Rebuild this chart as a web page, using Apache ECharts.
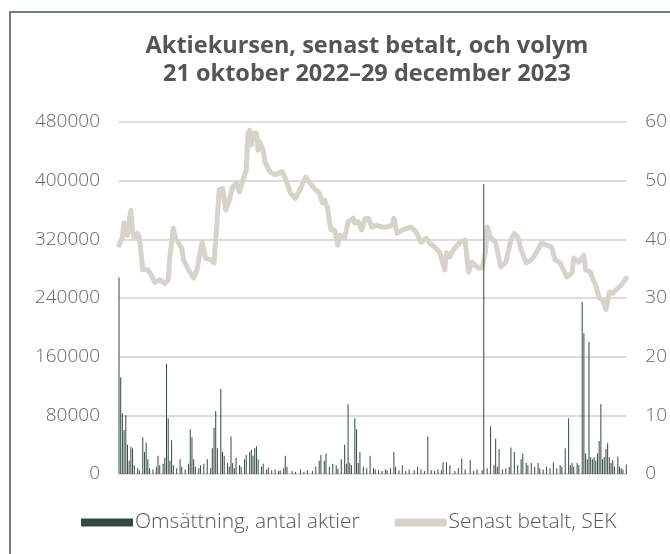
<!DOCTYPE html>
<html>
<head>
<meta charset="utf-8">
<script src="https://cdn.jsdelivr.net/npm/echarts@6/dist/echarts.min.js"></script>
<style>
html,body{margin:0;padding:0;background:#fff;}
#chart{width:670px;height:554px;}
</style>
</head>
<body>
<div id="chart"></div>
<script>
// Trading-day index (0 = 21 okt 2022, 299 = 29 dec 2023)
var priceDays = [0,2,3,4,5,6,7,8,9,11,12,14,17,19,21,24,27,29,30,32,33,35,37,38,41,44,46,48,49,51,54,56,58,59,61,63,65,67,69,71,73,75,76,77,78,79,81,82,83,85,86,89,92,96,98,101,104,107,110,112,115,118,120,121,123,124,125,127,129,130,133,135,138,139,141,143,145,147,149,152,155,158,161,162,164,167,172,175,178,181,183,186,189,192,193,195,197,201,204,206,208,212,214,216,217,219,222,225,228,231,233,235,237,240,243,246,249,252,255,257,260,264,267,268,271,274,275,278,279,281,283,285,287,289,291,293,296,299];
var priceValues = [39.0,40.4,42.8,43.0,40.7,43.0,44.9,41.6,40.2,41.0,40.4,34.8,34.8,33.9,32.7,33.1,32.5,33.1,37.0,41.9,40.4,39.4,38.5,36.5,34.8,33.4,34.8,38.2,39.5,36.8,36.5,36.0,43.8,48.4,48.7,45.0,46.7,48.9,49.6,48.1,50.1,51.8,58.1,58.6,56.1,58.1,58.1,55.2,56.6,55.2,53.2,51.5,51.0,51.5,50.5,47.9,47.0,48.7,50.6,49.8,48.7,47.9,46.2,46.7,45.3,43.0,41.6,41.6,39.0,40.7,40.2,43.0,43.6,42.8,43.0,41.6,43.5,43.6,42.1,42.4,42.1,42.1,42.4,43.6,41.0,41.6,42.1,41.3,39.5,40.2,39.4,38.7,37.8,34.8,37.7,37.0,38.2,39.5,39.9,34.4,36.1,35.1,35.1,37.8,42.1,40.4,39.4,35.3,36.1,39.9,41.0,40.4,38.2,36.0,36.5,37.7,39.4,39.0,38.7,36.5,36.0,33.6,34.3,36.8,36.1,37.3,34.8,34.4,33.4,32.2,30.0,29.7,28.0,31.0,30.8,31.4,32.2,33.4];

var volumeDays = [0,1,2,3,4,5,6,7,8,9,11,12,14,15,16,17,18,20,22,23,24,26,27,28,29,30,31,32,34,36,37,39,41,42,43,44,45,47,48,50,52,54,55,56,57,58,60,61,62,64,65,66,67,68,69,71,72,74,75,77,78,79,80,81,82,84,85,87,88,90,92,94,95,97,98,99,102,104,107,109,111,114,116,118,119,121,122,124,126,128,129,131,133,134,135,136,137,139,140,141,142,144,146,148,150,151,153,155,157,158,160,162,163,165,167,169,171,174,176,178,180,182,184,186,188,190,191,193,195,198,200,202,204,207,209,211,214,215,217,219,221,222,223,224,226,228,230,231,233,235,237,238,240,241,243,245,247,248,250,252,254,256,258,260,261,263,265,266,267,268,270,271,273,274,275,276,277,278,279,280,281,282,283,284,285,286,287,288,289,290,291,292,294,295,296,297,299];
var volumeValues = [268000,132000,83000,60000,80000,40000,18000,37000,35000,12000,8000,5000,50000,30000,43000,20000,8000,6000,10000,25000,12000,14000,22000,150000,76000,18000,46000,12000,8000,20000,10000,6000,14000,61000,50000,20000,10000,8000,12000,14000,20000,8000,35000,63000,86000,35000,116000,30000,25000,15000,10000,51000,15000,8000,22000,12000,10000,20000,26000,30000,33000,25000,35000,38000,20000,10000,14000,6000,9000,5000,6000,4000,5000,8000,25000,10000,4000,3000,6000,3000,5000,4000,10000,18000,26000,18000,28000,10000,14000,12000,7000,20000,40000,14000,95000,15000,12000,76000,61000,15000,30000,10000,8000,25000,8000,6000,5000,4000,6000,5000,8000,30000,10000,5000,12000,4000,6000,5000,10000,6000,4000,51000,5000,4000,6000,5000,16000,16000,12000,4000,8000,21000,6000,19000,4000,6000,5000,395000,8000,65000,12000,48000,10000,34000,6000,8000,10000,36000,30000,12000,20000,28000,15000,12000,15000,10000,15000,8000,6000,10000,8000,16000,8000,12000,10000,35000,76000,12000,15000,10000,15000,12000,234500,192000,28000,20000,180000,23000,20000,23000,18000,28000,45000,95000,20000,23000,34000,42000,23000,15000,19000,10000,24000,10000,8000,6000,13000];

var leftTicks = {min: 0, max: 480000, interval: 80000};
var rightTicks = {min: 0, max: 60, interval: 10};

var priceData = priceDays.map(function(d, i){ return [d, priceValues[i]]; });
var volumeData = volumeDays.map(function(d, i){ return [d, volumeValues[i]]; });

var chart = echarts.init(document.getElementById('chart'), null, {renderer: 'canvas'});
var labelFont = '"Open Sans"';
chart.setOption({
  animation: false,
  backgroundColor: '#ffffff',
  title: {
    text: 'Aktiekursen, senast betalt, och volym\n21 oktober 2022\u201329 december 2023',
    left: 362, textAlign: 'center', top: 27,
    textStyle: {fontFamily: labelFont, fontWeight: 'bold', fontSize: 23.5, color: '#555555', lineHeight: 28}
  },
  graphic: [{
    type: 'rect', silent: true, z: -10,
    shape: {x: 10, y: 12, width: 720, height: 620},
    style: {fill: 'none', stroke: '#6f7f78', lineWidth: 2}
  }],
  legend: {
    bottom: 16, left: 76,
    itemGap: 35, itemWidth: 52, itemHeight: 8,
    textStyle: {fontFamily: labelFont, fontWeight: 300, fontSize: 21, color: '#555555', padding: [0,0,0,-3]},
    data: [
      {name: 'Omsättning, antal aktier', icon: 'rect'},
      {name: 'Senast betalt, SEK', icon: 'roundRect'}
    ]
  },
  grid: {left: 119, right: 43, top: 122, bottom: 80},
  xAxis: {type: 'value', min: 0, max: 299, show: false},
  yAxis: [{
    type: 'value', min: leftTicks.min, max: leftTicks.max, interval: leftTicks.interval,
    axisLine: {show: false}, axisTick: {show: false},
    axisLabel: {margin: 19, fontFamily: labelFont, fontWeight: 300, fontSize: 19, color: '#666666',
      formatter: function(v){ return String(v); }},
    splitLine: {lineStyle: {color: '#dcdcdc', width: 2}}
  }, {
    type: 'value', min: rightTicks.min, max: rightTicks.max, interval: rightTicks.interval,
    axisLine: {show: false}, axisTick: {show: false},
    axisLabel: {margin: 19, fontFamily: labelFont, fontWeight: 300, fontSize: 19, color: '#666666',
      formatter: function(v){ return String(v); }},
    splitLine: {show: false}
  }],
  series: [{
    name: 'Omsättning, antal aktier', type: 'bar', yAxisIndex: 0,
    data: volumeData, barWidth: 0.7, z: 5,
    itemStyle: {color: '#344a3e'}
  }, {
    name: 'Senast betalt, SEK', type: 'line', yAxisIndex: 1,
    data: priceData, symbol: 'none', z: 3,
    lineStyle: {color: '#d6d3cc', width: 5, join: 'round', cap: 'round'},
    itemStyle: {color: '#d6d3cc'}
  }]
});
</script>
</body>
</html>
